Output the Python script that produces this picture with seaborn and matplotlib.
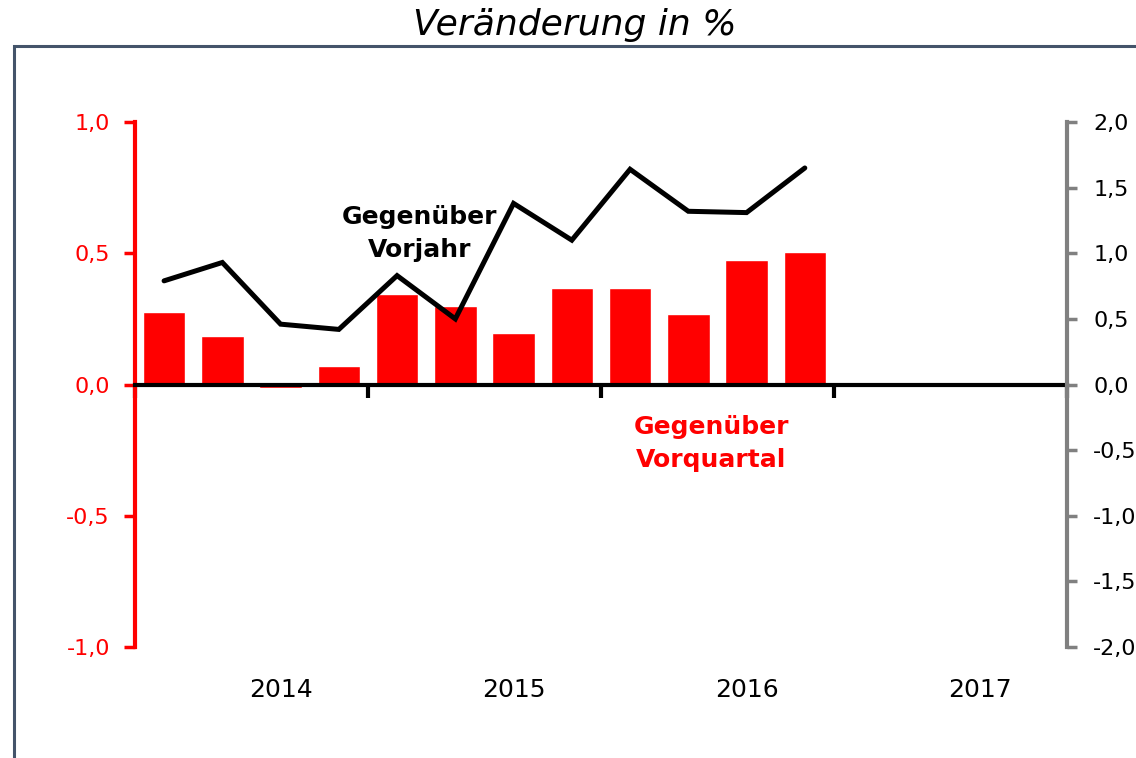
import numpy as np
import pandas as pd
import seaborn as sns
import matplotlib.pyplot as plt
from matplotlib.patches import Rectangle
from matplotlib.ticker import FuncFormatter, FixedLocator
import matplotlib.transforms as mtransforms

# Daten (Quartale 2014 bis 2017)
quartale = ['2014Q1', '2014Q2', '2014Q3', '2014Q4',
            '2015Q1', '2015Q2', '2015Q3', '2015Q4',
            '2016Q1', '2016Q2', '2016Q3', '2016Q4',
            '2017Q1', '2017Q2', '2017Q3', '2017Q4']
jahre = ['2014', '2015', '2016', '2017']
# Gegenüber Vorquartal (linke Achse)
vorquartal = [0.276, 0.183, -0.015, 0.069, 0.346, 0.298, 0.198, 0.366,
              0.366, 0.267, 0.473, 0.504]
# Gegenüber Vorjahr (rechte Achse)
vorjahr = [0.79, 0.93, 0.46, 0.42, 0.83, 0.50, 1.38, 1.10,
           1.64, 1.32, 1.31, 1.65]

df = pd.DataFrame({'quartal': quartale[:len(vorquartal)],
                   'vorquartal': vorquartal,
                   'vorjahr': vorjahr})

sns.set_style('white')
plt.rcParams['font.family'] = ['DejaVu Sans']

fig = plt.figure(figsize=(11.36, 7.58), dpi=100)
ax = fig.add_axes([0.1188, 0.1464, 0.8204, 0.6926])

sns.barplot(data=df, x='quartal', y='vorquartal', order=quartale,
            color='#FF0000', saturation=1, width=0.73, errorbar=None, ax=ax)

ax2 = ax.twinx()
sns.lineplot(x=np.arange(len(vorjahr)), y=vorjahr, color='black',
             linewidth=3.6, ax=ax2, solid_joinstyle='miter')

komma = FuncFormatter(lambda v, p: f'{v:.1f}'.replace('.', ','))

# linke Achse
ax.set_xlim(-0.5, len(quartale) - 0.5)
ax.set_ylim(-1.0, 1.0)
ax.set_yticks([-1.0, -0.5, 0.0, 0.5, 1.0])
ax.yaxis.set_major_formatter(komma)
ax.tick_params(axis='y', colors='#FF0000', labelcolor='#FF0000', length=8,
               width=2.5, direction='out', pad=10, labelsize=16, left=True)
ax.spines['left'].set_color('#FF0000')
ax.spines['left'].set_linewidth(3)
ax.spines['top'].set_visible(False)
ax.spines['right'].set_visible(False)
ax.spines['bottom'].set_position(('data', 0))
ax.spines['bottom'].set_linewidth(3)
ax.spines['bottom'].set_color('black')
ax.xaxis.set_major_locator(FixedLocator(np.arange(-0.5, len(quartale), 4)))
ax.set_xticklabels([])
ax.tick_params(axis='x', direction='out', length=9, width=3, colors='black', bottom=True)
ax.set_xlabel('')
ax.set_ylabel('')

trans = mtransforms.blended_transform_factory(ax.transData, ax.transAxes)
for i, j in enumerate(jahre):
    ax.text(i * 4 + 2.0, -0.082, j, transform=trans, ha='center', va='center',
            fontsize=18, color='black')

# rechte Achse
ax2.set_ylim(-2.0, 2.0)
ax2.set_yticks([-2.0, -1.5, -1.0, -0.5, 0.0, 0.5, 1.0, 1.5, 2.0])
ax2.yaxis.set_major_formatter(komma)
ax2.tick_params(axis='y', colors='#808080', labelcolor='black', length=7,
                width=2.5, direction='out', pad=12, labelsize=16, right=True)
for s in ['top', 'bottom', 'left']:
    ax2.spines[s].set_visible(False)
ax2.spines['right'].set_color('#808080')
ax2.spines['right'].set_linewidth(3)
ax2.set_ylabel('')

# Beschriftungen
ax.text(4.39, 0.576, 'Gegenüber\nVorjahr', ha='center', va='center',
        fontsize=18, fontweight='bold', color='black', linespacing=1.45)
ax.text(9.39, -0.225, 'Gegenüber\nVorquartal', ha='center', va='center',
        fontsize=18, fontweight='bold', color='#FF0000', linespacing=1.45)

fig.text(0.506, 0.967, 'Veränderung in %', ha='center', va='center',
         fontsize=26, fontstyle='italic', color='black')

fig.patches.append(Rectangle((0.0123, -0.05), 1.1, 0.9893, transform=fig.transFigure,
                             fill=False, edgecolor='#44546A', linewidth=2.2))

fig.savefig('out.png', dpi=100)
